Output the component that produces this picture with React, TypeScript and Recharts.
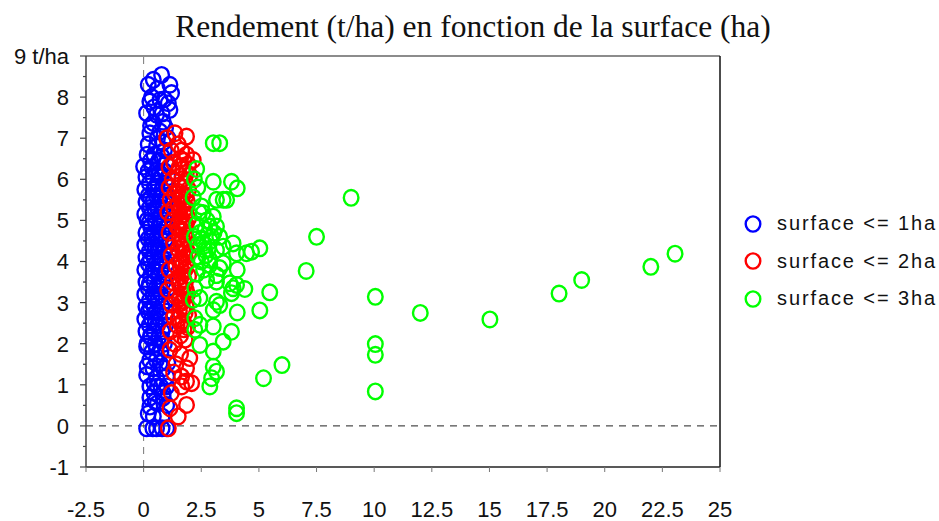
import React from "react";
import { ScatterChart, Scatter, XAxis, YAxis, ReferenceLine, Legend } from "recharts";

// [surface (ha), rendement (t/ha)]
const surf1: [number, number][] = [
  [0.78, 8.54], [0.42, 8.42], [0.2, 8.3], [1.14, 8.3], [0.6, 8.2], [1.21, 8.1],
  [0.27, 7.89], [0.71, 7.93], [1.07, 7.85], [0.13, 7.61], [0.56, 7.57], [1.14, 7.69],
  [0.42, 7.37], [0.85, 7.4], [0.27, 7.12], [0.71, 7.16], [0.95, 7.25], [1.05, 7.0],
  [0.2, 6.85], [0.56, 6.8], [0.9, 6.7], [0.15, 6.6], [0.45, 6.6], [0.8, 6.55],
  [0.3, 6.45], [0.65, 6.45], [1.0, 6.4], [0.0, 6.31], [0.2, 6.2], [0.55, 6.2], [0.9, 6.2],
  [0.1, 6.05], [0.4, 6.05], [0.75, 6.05], [1.05, 6.05], [0.25, 5.9], [0.6, 5.9], [0.95, 5.9],
  [0.05, 5.75], [0.45, 5.75], [0.8, 5.75], [0.2, 5.6], [0.55, 5.6], [1.0, 5.6],
  [0.1, 5.45], [0.4, 5.45], [0.7, 5.45], [0.95, 5.45], [0.25, 5.3], [0.6, 5.3], [0.85, 5.3],
  [0.05, 5.15], [0.35, 5.15], [0.75, 5.15], [1.05, 5.15], [0.15, 5.0], [0.5, 5.0], [0.9, 5.0],
  [0.3, 4.85], [0.65, 4.85], [1.0, 4.85], [0.1, 4.7], [0.45, 4.7], [0.8, 4.7],
  [0.2, 4.55], [0.55, 4.55], [0.95, 4.55], [0.05, 4.4], [0.35, 4.4], [0.7, 4.4], [1.05, 4.4],
  [0.25, 4.25], [0.6, 4.25], [0.9, 4.25], [0.1, 4.1], [0.45, 4.1], [0.8, 4.1],
  [0.2, 3.95], [0.55, 3.95], [1.0, 3.95], [0.05, 3.8], [0.4, 3.8], [0.75, 3.8],
  [0.3, 3.65], [0.65, 3.65], [0.95, 3.65], [0.1, 3.5], [0.45, 3.5], [0.85, 3.5],
  [0.2, 3.35], [0.55, 3.35], [1.05, 3.35], [0.05, 3.2], [0.4, 3.2], [0.75, 3.2],
  [0.25, 3.05], [0.6, 3.05], [0.95, 3.05], [0.1, 2.9], [0.45, 2.9], [0.8, 2.9],
  [0.2, 2.78], [0.55, 2.78], [1.0, 2.78], [0.05, 2.6], [0.35, 2.6], [0.7, 2.6],
  [0.25, 2.45], [0.6, 2.45], [0.95, 2.45], [0.1, 2.3], [0.45, 2.3], [0.8, 2.3],
  [0.3, 2.15], [0.65, 2.15], [0.15, 2.0], [0.5, 2.0], [0.9, 2.0], [0.13, 1.93],
  [0.35, 1.8], [0.75, 1.8], [0.27, 1.6], [0.55, 1.6], [0.71, 1.53], [1.05, 1.53],
  [0.4, 1.4], [0.85, 1.4], [0.13, 1.24], [0.56, 1.16], [1.0, 1.2], [0.27, 0.96], [0.6, 0.96],
  [1.0, 0.96], [0.45, 0.8], [0.85, 0.8], [0.27, 0.69], [0.85, 0.69], [0.6, 0.55], [0.27, 0.47],
  [1.0, 0.51], [0.42, 0.23], [0.8, 0.23], [0.13, -0.06], [0.4, -0.06], [0.56, -0.06],
  [0.8, -0.06], [1.0, -0.06],
  [0.35, 8.0], [0.9, 7.95], [0.45, 7.75], [0.8, 7.6], [0.3, 7.3], [0.6, 7.0], [0.85, 6.9],
  [0.35, 6.3], [0.7, 6.15], [0.5, 5.8], [0.3, 5.55], [0.75, 5.6], [0.5, 5.25], [0.25, 4.95],
  [0.7, 4.95], [0.35, 4.6], [0.75, 4.55], [0.5, 4.35], [0.3, 4.05], [0.7, 4.0], [0.5, 3.75],
  [0.25, 3.45], [0.7, 3.4], [0.5, 3.1], [0.3, 2.85], [0.7, 2.75], [0.5, 2.5], [0.3, 2.2],
  [0.8, 2.1], [0.55, 1.9], [0.15, 1.45], [0.45, 1.05], [0.75, 0.95], [0.5, 0.6], [0.2, 0.3],
];

const surf2: [number, number][] = [
  [1.36, 7.12], [1.86, 7.04], [1.0, 7.0], [1.5, 6.85], [1.2, 6.7], [1.86, 6.6], [2.15, 6.47],
  [1.6, 6.5], [1.3, 6.4], [1.95, 6.35], [1.1, 6.3], [1.7, 6.25], [1.45, 6.15], [2.0, 6.1],
  [1.25, 6.0], [1.8, 5.95], [1.55, 5.85], [1.1, 5.8], [1.95, 5.75], [1.35, 5.65], [1.7, 5.6],
  [1.15, 5.5], [1.9, 5.45], [1.5, 5.4], [1.3, 5.3], [1.75, 5.25], [1.05, 5.2], [1.6, 5.1],
  [1.95, 5.05], [1.25, 5.0], [1.85, 4.9], [1.45, 4.85], [1.7, 4.75], [1.1, 4.7], [1.55, 4.6],
  [1.9, 4.55], [1.3, 4.45], [1.75, 4.4], [1.5, 4.3], [1.95, 4.2], [1.2, 4.15], [1.65, 4.05],
  [1.85, 3.95], [1.4, 3.9], [1.1, 3.8], [1.7, 3.75], [1.95, 3.65], [1.5, 3.6], [1.25, 3.5],
  [1.8, 3.45], [1.6, 3.35], [1.05, 3.3], [1.9, 3.2], [1.4, 3.15], [1.7, 3.05], [1.2, 2.95],
  [1.85, 2.9], [1.55, 2.8], [1.95, 2.7], [1.3, 2.65], [1.7, 2.55], [1.45, 2.45], [1.9, 2.4],
  [1.15, 2.3], [1.6, 2.2], [1.8, 2.1], [1.35, 2.0], [1.14, 1.85], [2.0, 1.65], [1.6, 1.75],
  [1.86, 1.4], [1.4, 1.5], [1.3, 1.3], [1.65, 1.2], [1.86, 1.08], [2.08, 1.04], [1.65, 0.96],
  [1.2, 0.8], [1.86, 0.51], [1.14, 0.43], [1.5, 0.23], [1.07, -0.06],
  [1.65, 6.7], [1.75, 5.8], [1.6, 5.55], [1.8, 5.15], [1.65, 4.95], [1.8, 4.65], [1.65, 4.35],
  [1.8, 4.1], [1.6, 3.85], [1.75, 3.55], [1.85, 3.3], [1.65, 3.0], [1.8, 2.75], [1.6, 2.5],
  [1.75, 6.45], [1.55, 6.3], [1.85, 6.15], [1.65, 6.0], [1.5, 5.7], [1.85, 5.6], [1.7, 5.4],
  [1.55, 5.25], [1.85, 5.3], [1.7, 5.0], [1.55, 4.8], [1.8, 4.85], [1.7, 4.55], [1.6, 4.45],
  [1.85, 4.3], [1.7, 4.2], [1.55, 4.0], [1.8, 3.8], [1.65, 3.65], [1.55, 3.45], [1.75, 3.2],
  [1.55, 3.1], [1.7, 2.85], [1.5, 2.6], [1.75, 2.35],
];

const surf3: [number, number][] = [
  [9.0, 5.55], [7.5, 4.6], [5.04, 4.32], [4.68, 4.24], [7.05, 3.77], [5.47, 3.25], [5.04, 2.81],
  [10.05, 3.14], [12.0, 2.75], [15.02, 2.59], [18.02, 3.22], [19.0, 3.55], [22.0, 3.87],
  [23.05, 4.19], [10.05, 1.99], [10.05, 1.73], [10.05, 0.84], [6.0, 1.48], [5.2, 1.16],
  [3.02, 6.88], [3.3, 6.88], [2.3, 6.25], [3.02, 5.94], [3.81, 5.94], [4.06, 5.78], [3.16, 5.5],
  [3.45, 5.5], [3.6, 5.5], [2.15, 5.56], [2.51, 5.34], [2.58, 5.18], [3.02, 5.09], [2.87, 4.85],
  [3.16, 4.85], [2.66, 4.77], [2.95, 4.6], [3.3, 4.6], [3.88, 4.44], [2.51, 4.53], [2.66, 4.28],
  [3.16, 4.28], [3.45, 4.36], [4.03, 4.2], [4.46, 4.2], [2.37, 4.12], [2.87, 4.04], [3.45, 3.96],
  [4.06, 3.8], [2.87, 3.92], [3.3, 3.84], [3.16, 3.67], [2.73, 3.55], [3.16, 3.51], [3.74, 3.47],
  [3.88, 3.35], [4.39, 3.33], [2.22, 3.35], [2.15, 3.07], [2.44, 3.11], [3.16, 3.02], [3.3, 2.94],
  [3.02, 2.82], [4.06, 2.76], [2.22, 2.62], [2.44, 2.46], [2.22, 2.34], [3.02, 2.42], [3.81, 2.29],
  [3.45, 2.05], [2.44, 1.97], [3.02, 1.81], [3.02, 1.44], [3.16, 1.32], [2.95, 1.16], [2.87, 0.96],
  [4.03, 0.43], [4.03, 0.31], [3.81, 3.23], [4.03, 3.43],
  [2.3, 4.9], [2.45, 4.7], [2.6, 4.45], [2.8, 4.3], [2.9, 4.5], [2.5, 4.0], [2.7, 4.15],
  [2.35, 4.4], [3.05, 4.7], [2.75, 5.0], [2.4, 5.2], [2.2, 4.6], [2.6, 3.8], [2.3, 3.7],
  [2.2, 6.0], [2.35, 5.8],
];

const seriesNames = ["surface <= 1ha", "surface <= 2ha", "surface <= 3ha"];
const seriesColors = ["#0000ff", "#ff0000", "#00ff00"];
const xTicks = [-2.5, 0, 2.5, 5, 7.5, 10, 12.5, 15, 17.5, 20, 22.5, 25];
const yTicks = [-1, -0.5, 0, 0.5, 1, 1.5, 2, 2.5, 3, 3.5, 4, 4.5, 5, 5.5, 6, 6.5, 7, 7.5, 8, 8.5, 9];

const toPts = (arr: [number, number][]) => arr.map(([x, y]) => ({ x, y }));

const sans = "'Liberation Sans', Arial, sans-serif";

const ring = (color: string) => (p: any) => (
  <ellipse cx={p.cx} cy={p.cy} rx={7.3} ry={7.8} fill="none" stroke={color} strokeWidth={2.4} />
);

const YTick = (p: any) => {
  const v = p.payload.value;
  const major = Number.isInteger(v);
  const ax = p.x + 17;
  return (
    <g>
      <line x1={ax - (major ? 6 : 3)} x2={ax} y1={p.y} y2={p.y} stroke="#444" strokeWidth={1.2} />
      {major && (
        <text x={p.x} y={p.y} dy="0.36em" textAnchor="end" fontSize={22} fontFamily={sans} fill="#111">
          {v === 9 ? "9 t/ha" : v}
        </text>
      )}
    </g>
  );
};

const LegendBox = () => (
  <div style={{ fontFamily: sans, fontSize: 20, color: "#111" }}>
    {seriesNames.map((n, i) => (
      <div key={n} style={{ display: "flex", alignItems: "center", height: 37.5 }}>
        <svg width={22} height={22} style={{ marginRight: 13 }}>
          <ellipse cx={11} cy={11} rx={7.3} ry={7.6} fill="none" stroke={seriesColors[i]} strokeWidth={2.4} />
        </svg>
        <span style={{ letterSpacing: 1.9 }}>{n}</span>
      </div>
    ))}
  </div>
);

export default function App() {
  const sets = [surf1, surf2, surf3];
  return (
    <div style={{ position: "absolute", left: 0, top: 0, width: 939, height: 521, background: "#fff" }}>
      <div
        style={{
          position: "absolute", left: 0, top: 9, width: 946, textAlign: "center",
          fontFamily: "'Liberation Serif', 'Times New Roman', serif", fontSize: 31.5, lineHeight: "36px", color: "#111",
        }}
      >
        Rendement (t/ha) en fonction de la surface (ha)
      </div>
      <ScatterChart width={939} height={521} margin={{ top: 56, right: 219, bottom: 0, left: 0 }}>
        <XAxis
          type="number" dataKey="x" domain={[-2.5, 25]} ticks={xTicks} interval={0}
          height={54} tickSize={5} tickMargin={29}
          axisLine={{ stroke: "#222", strokeWidth: 1.5 }} tickLine={{ stroke: "#777" }}
          tick={{ fontSize: 22, fontFamily: sans, fill: "#111" }}
        />
        <YAxis
          type="number" dataKey="y" domain={[-1, 9]} ticks={yTicks} interval={0}
          width={86} tickSize={6} tickMargin={11}
          axisLine={{ stroke: "#444", strokeWidth: 1.5 }} tickLine={false} tick={<YTick />}
        />
        <ReferenceLine y={9} stroke="#666" strokeWidth={1.5} />
        <ReferenceLine x={25} stroke="#111" strokeWidth={1.5} />
        <ReferenceLine x={0} stroke="#777" strokeDasharray="7 6" />
        <ReferenceLine y={0} stroke="#222" strokeDasharray="7 6" />
        {sets.map((s, i) => (
          <Scatter key={i} name={seriesNames[i]} data={toPts(s)} shape={ring(seriesColors[i])} isAnimationActive={false} />
        ))}
        <Legend
          layout="horizontal" verticalAlign="middle" align="center"
          wrapperStyle={{ position: "absolute", left: 742, top: 205, width: 197 }}
          content={<LegendBox />}
        />
      </ScatterChart>
    </div>
  );
}
